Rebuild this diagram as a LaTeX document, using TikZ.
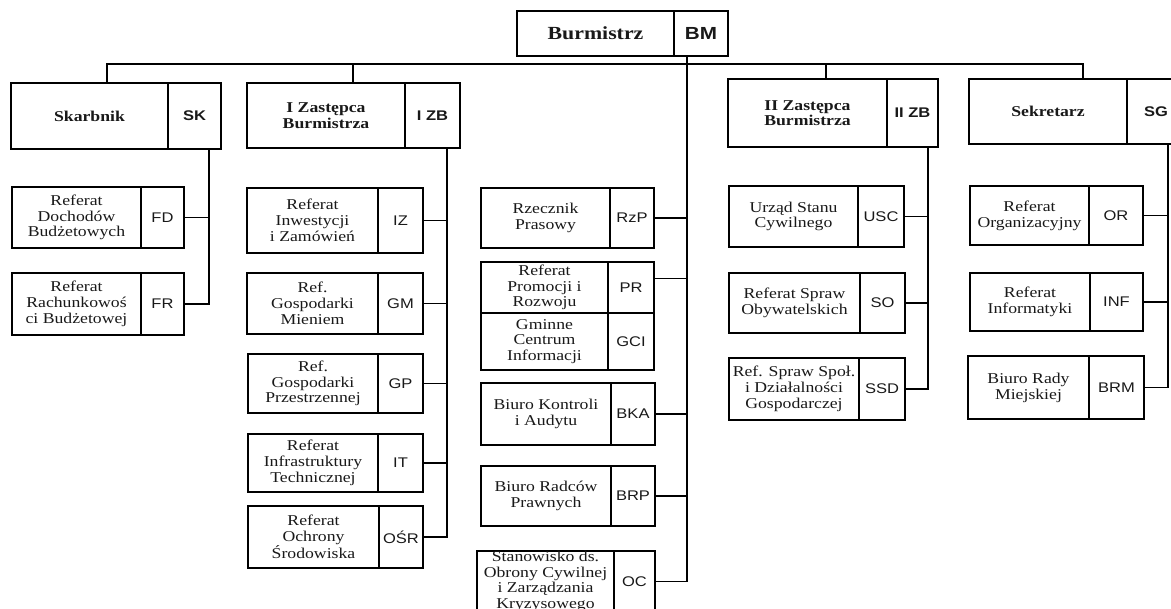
\documentclass[tikz,border=0pt]{standalone}
\usepackage{fontspec}
\setmainfont{Liberation Serif}[FakeStretch=1.18]
\setsansfont{Liberation Sans}[FakeStretch=1.18]
\tikzset{
  box/.style={draw, line width=1.8pt, inner sep=0pt, outer sep=0pt, text=black!90},
  bname/.style={box, font=\fontsize{18.5}{20}\selectfont\bfseries, align=center},
  bcode/.style={box, font=\sffamily\fontsize{17.5}{20}\selectfont\bfseries},
  hname/.style={box, font=\fontsize{15}{15.5}\selectfont\bfseries, align=center},
  hcode/.style={box, font=\sffamily\fontsize{14}{16}\selectfont\bfseries},
  sname/.style={box, font=\fontsize{15}{15.8}\selectfont, align=center},
  scode/.style={box, font=\sffamily\fontsize{14}{16}\selectfont},
  conn/.style={line width=1.8pt, line cap=rect}
}
\newcommand\orgunit[9]{%
  \node[#2name, minimum width={(#4-#3)*1pt}, minimum height={(#7-#6)*1pt}] (#1) at ({(#3+#4)/2},{(#6+#7)/2}) {#8};
  \node[#2code, minimum width={(#5-#4)*1pt}, minimum height={(#7-#6)*1pt}] (#1c) at ({(#4+#5)/2},{(#6+#7)/2}) {#9};
}
\begin{document}
\begin{tikzpicture}[x=1pt, y=-1pt]
\useasboundingbox[fill=white] (0,0) rectangle (1171,609);
% top
\orgunit{bm}{b}{517}{674}{728}{11}{56}{Burmistrz}{BM}
% heads
\orgunit{sk}{h}{11}{168}{221}{83}{149}{Skarbnik}{SK}
\orgunit{zba}{h}{247}{405}{460}{83}{148}{I Zastępca\\Burmistrza}{I ZB}
\orgunit{zbb}{h}{728}{887}{938}{79}{147}{II Zastępca\\Burmistrza}{II ZB}
\orgunit{sg}{h}{969}{1127}{1185}{79}{144}{Sekretarz}{SG}
% Skarbnik
\orgunit{fd}{s}{12}{141}{184}{187}{248}{Referat\\Dochodów\\Budżetowych}{FD}
\orgunit{fr}{s}{12}{141}{184}{273}{335}{Referat\\Rachunkowoś\\ci Budżetowej}{FR}
% I ZB
\orgunit{iz}{s}{247}{378}{423}{188}{253}{Referat\\Inwestycji\\i Zamówień}{IZ}
\orgunit{gm}{s}{247}{378}{423}{273}{334}{Ref.\\Gospodarki\\Mieniem}{GM}
\orgunit{gp}{s}{248}{378}{423}{354}{413}{Ref.\\Gospodarki\\Przestrzennej}{GP}
\orgunit{it}{s}{248}{378}{423}{434}{492}{Referat\\Infrastruktury\\Technicznej}{IT}
\orgunit{osr}{s}{248}{379}{423}{506}{568}{Referat\\Ochrony\\Środowiska}{OŚR}
% middle
\orgunit{rzp}{s}{481}{610}{654}{188}{248}{Rzecznik\\Prasowy}{RzP}
\orgunit{pr}{s}{481}{608}{654}{262}{313}{Referat\\Promocji i\\Rozwoju}{PR}
\orgunit{gci}{s}{481}{608}{654}{313}{370}{Gminne\\Centrum\\Informacji}{GCI}
\orgunit{bka}{s}{481}{611}{655}{383}{445}{Biuro Kontroli\\i Audytu}{BKA}
\orgunit{brp}{s}{481}{611}{655}{466}{526}{Biuro Radców\\Prawnych}{BRP}
\orgunit{oc}{s}{477}{614}{655}{551}{612}{Stanowisko ds.\\Obrony Cywilnej\\i Zarządzania\\Kryzysowego}{OC}
% II ZB
\orgunit{usc}{s}{729}{858}{904}{186}{247}{Urząd Stanu\\Cywilnego}{USC}
\orgunit{so}{s}{729}{860}{905}{273}{333}{Referat Spraw\\Obywatelskich}{SO}
\orgunit{ssd}{s}{729}{859}{905}{358}{420}{Ref. Spraw Społ.\\i Działalności\\Gospodarczej}{SSD}
% Sekretarz
\orgunit{nor}{s}{970}{1089}{1143}{186}{245}{Referat\\Organizacyjny}{OR}
\orgunit{inf}{s}{970}{1090}{1143}{273}{331}{Referat\\Informatyki}{INF}
\orgunit{brm}{s}{968}{1089}{1144}{356}{419}{Biuro Rady\\Miejskiej}{BRM}
% bus coordinates
\coordinate (busL) at (107,64);
\coordinate (busR) at (1083,64);
\coordinate (tza) at (353,64);
\coordinate (tzb) at (826,64);
\coordinate (spBM) at (687,64);
\coordinate (spSK) at (209,0);
\coordinate (spZA) at (447,0);
\coordinate (spZB) at (928,0);
\coordinate (spSG) at (1168,0);
% top bus
\draw[conn] (busL |- sk.north) -- (busL) -- (busR) -- (busR |- sg.north);
\draw[conn] (tza) -- (tza |- zba.north);
\draw[conn] (tzb) -- (tzb |- zbb.north);
% Burmistrz spine
\draw[conn] (spBM |- bmc.south) -- (spBM |- occ.east) -- (occ.east);
\foreach \n in {rzpc, bkac, brpc} \draw[conn] (\n.east) -- (\n.east -| spBM);
\draw[conn] ([yshift=9pt]prc.east) -- ([yshift=9pt]prc.east -| spBM);
% Skarbnik spine
\draw[conn] (spSK |- skc.south) -- (spSK |- frc.east) -- (frc.east);
\draw[conn] (fdc.east) -- (fdc.east -| spSK);
% I ZB spine
\draw[conn] (spZA |- zbac.south) -- (spZA |- osrc.east) -- (osrc.east);
\foreach \n in {izc, gmc, gpc, itc} \draw[conn] (\n.east) -- (\n.east -| spZA);
% II ZB spine
\draw[conn] (spZB |- zbbc.south) -- (spZB |- ssdc.east) -- (ssdc.east);
\foreach \n in {uscc, soc} \draw[conn] (\n.east) -- (\n.east -| spZB);
% Sekretarz spine
\draw[conn] (spSG |- sgc.south) -- (spSG |- brmc.east) -- (brmc.east);
\foreach \n in {norc, infc} \draw[conn] (\n.east) -- (\n.east -| spSG);
\end{tikzpicture}
\end{document}
